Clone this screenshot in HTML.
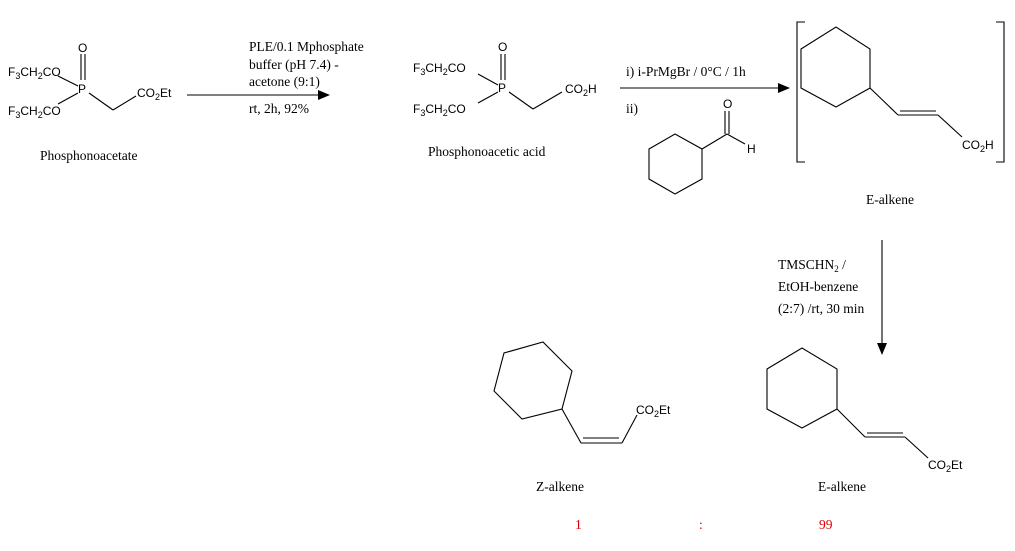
<!DOCTYPE html>
<html><head><meta charset="utf-8"><style>body{margin:0;background:#fff}svg{display:block}
.s{font-family:"Liberation Sans",sans-serif;font-size:12px}
.r{font-family:"Liberation Serif",serif;font-size:13.5px}
.sub{font-size:9px}
</style></head><body>
<svg width="1015" height="551" viewBox="0 0 1015 551" xmlns="http://www.w3.org/2000/svg">
<g stroke="#000" stroke-width="1.1" fill="none">
<!-- phosphonoacetate -->
<line x1="81" y1="54" x2="81" y2="80"/><line x1="85" y1="54" x2="85" y2="80"/>
<line x1="58" y1="76" x2="78" y2="86"/><line x1="58" y1="104" x2="78" y2="93"/>
<line x1="89" y1="93" x2="113" y2="110"/><line x1="113" y1="110" x2="136" y2="96"/>
<!-- acid -->
<line x1="501" y1="54" x2="501" y2="80"/><line x1="505" y1="54" x2="505" y2="80"/>
<line x1="478" y1="74" x2="498" y2="85"/><line x1="478" y1="103" x2="498" y2="92"/>
<line x1="509" y1="92" x2="533" y2="109"/><line x1="533" y1="109" x2="562" y2="92"/>
<!-- arrows -->
<line x1="187" y1="95" x2="318" y2="95"/>
<line x1="620" y1="88" x2="778" y2="88"/>
<line x1="882" y1="240" x2="882" y2="343"/>
<!-- aldehyde -->
<polygon points="649,149 675,134 702,149 702,179 675,194 649,179"/>
<line x1="702" y1="149" x2="727" y2="134"/><line x1="727" y1="134" x2="745" y2="144"/>
<line x1="725" y1="111" x2="725" y2="134"/><line x1="729" y1="111" x2="729" y2="134"/>
<!-- brackets -->
<polyline points="805,22 797,22 797,162 805,162"/>
<polyline points="996,22 1004,22 1004,162 996,162"/>
<polygon points="801,49 836,27 870,49 870,88 836,107 801,88"/>
<line x1="870" y1="88" x2="898" y2="115"/><line x1="898" y1="115" x2="938" y2="115"/>
<line x1="900" y1="111" x2="936" y2="111"/><line x1="938" y1="115" x2="962" y2="137"/>
<!-- Z -->
<polygon points="494,391 504,353 543,342 572,371 562,409 522,419"/>
<line x1="562" y1="409" x2="581" y2="443"/><line x1="581" y1="443" x2="622" y2="443"/>
<line x1="583" y1="438" x2="619" y2="438"/><line x1="622" y1="443" x2="637" y2="415"/>
<!-- E bottom -->
<polygon points="767,369 802,348 837,369 837,409 802,428 767,409"/>
<line x1="837" y1="409" x2="865" y2="437"/><line x1="865" y1="437" x2="905" y2="437"/>
<line x1="867" y1="433" x2="903" y2="433"/><line x1="905" y1="437" x2="928" y2="458"/>
</g>
<g fill="#000">
<polygon points="318,90 330,95 318,100"/>
<polygon points="778,83 790,88 778,93"/>
<polygon points="877,343 882,355 887,343"/>
</g>
<g class="s">
<text x="78" y="52">O</text><text x="78" y="93">P</text>
<text x="8" y="76">F<tspan class="sub" dy="3">3</tspan><tspan dy="-3">CH</tspan><tspan class="sub" dy="3">2</tspan><tspan dy="-3">CO</tspan></text>
<text x="8" y="115">F<tspan class="sub" dy="3">3</tspan><tspan dy="-3">CH</tspan><tspan class="sub" dy="3">2</tspan><tspan dy="-3">CO</tspan></text>
<text x="137" y="97">CO<tspan class="sub" dy="3">2</tspan><tspan dy="-3">Et</tspan></text>
<text x="498" y="51">O</text><text x="498" y="92">P</text>
<text x="413" y="72">F<tspan class="sub" dy="3">3</tspan><tspan dy="-3">CH</tspan><tspan class="sub" dy="3">2</tspan><tspan dy="-3">CO</tspan></text>
<text x="413" y="113">F<tspan class="sub" dy="3">3</tspan><tspan dy="-3">CH</tspan><tspan class="sub" dy="3">2</tspan><tspan dy="-3">CO</tspan></text>
<text x="565" y="93">CO<tspan class="sub" dy="3">2</tspan><tspan dy="-3">H</tspan></text>
<text x="723" y="108">O</text><text x="747" y="153">H</text>
<text x="962" y="149">CO<tspan class="sub" dy="3">2</tspan><tspan dy="-3">H</tspan></text>
<text x="636" y="414">CO<tspan class="sub" dy="3">2</tspan><tspan dy="-3">Et</tspan></text>
<text x="928" y="469">CO<tspan class="sub" dy="3">2</tspan><tspan dy="-3">Et</tspan></text>
</g>
<g class="r">
<text x="40" y="160">Phosphonoacetate</text>
<text x="249" y="51">PLE/0.1 Mphosphate</text>
<text x="249" y="69">buffer (pH 7.4) -</text>
<text x="249" y="86">acetone (9:1)</text>
<text x="249" y="113">rt, 2h, 92%</text>
<text x="428" y="156">Phosphonoacetic acid</text>
<text x="626" y="76">i) i-PrMgBr / 0°C / 1h</text>
<text x="626" y="113">ii)</text>
<text x="866" y="204">E-alkene</text>
<text x="778" y="269">TMSCHN<tspan font-size="9" dy="3">2</tspan><tspan dy="-3"> /</tspan></text>
<text x="778" y="291">EtOH-benzene</text>
<text x="778" y="313">(2:7) /rt, 30 min</text>
<text x="536" y="491">Z-alkene</text>
<text x="818" y="491">E-alkene</text>
<g fill="#e00000"><text x="575" y="529">1</text><text x="699" y="529">:</text><text x="819" y="529">99</text></g>
</g>
</svg>
</body></html>
